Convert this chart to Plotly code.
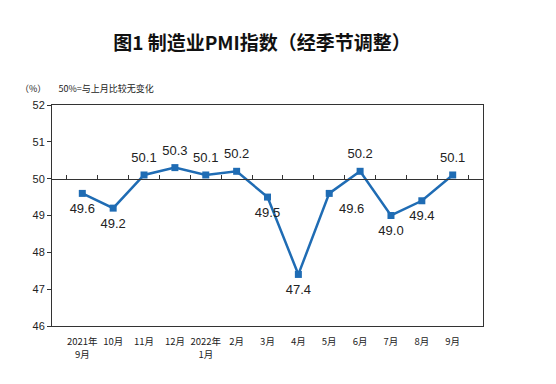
import plotly.graph_objects as go

months = ["2021年<br>9月", "10月", "11月", "12月", "2022年<br>1月", "2月", "3月", "4月", "5月", "6月", "7月", "8月", "9月"]
pmi = [49.6, 49.2, 50.1, 50.3, 50.1, 50.2, 49.5, 47.4, 49.6, 50.2, 49.0, 49.4, 50.1]
label_pos = ["bottom center", "bottom center", "top center", "top center", "top center", "top center",
             "bottom center", "bottom center", "bottom right", "top center", "bottom center", "bottom center", "top center"]
yticks = [46, 47, 48, 49, 50, 51, 52]

blue = "#1F6CB4"
fig = go.Figure()
fig.add_trace(go.Scatter(
    x=months, y=pmi, mode="lines+markers",
    line=dict(color=blue, width=2.5),
    marker=dict(symbol="square", size=7, color=blue),
    showlegend=False, hoverinfo="skip"))
# data labels (invisible larger markers give the labels more offset)
fig.add_trace(go.Scatter(
    x=months, y=pmi, mode="markers+text",
    marker=dict(size=14, opacity=0),
    text=[f"{v:.1f}" for v in pmi], textposition=label_pos,
    textfont=dict(family="Liberation Sans, Arial", size=13, color="#222222"),
    cliponaxis=False, showlegend=False, hoverinfo="skip"))
# invisible trace to carry the axis drawn at 50
fig.add_trace(go.Scatter(x=months, y=[None]*len(months), xaxis="x2", showlegend=False, hoverinfo="skip"))

fig.update_layout(
    width=556, height=384,
    margin=dict(l=44, r=81, t=97, b=66),
    paper_bgcolor="white", plot_bgcolor="white",
    title=dict(text="图1 制造业PMI指数（经季节调整）", x=(262-8)/556, xanchor="center",
               y=1 - 35/384, yanchor="middle", yref="container",
               font=dict(family="Noto Sans CJK SC", size=19, color="#111111", weight="bold")),
    xaxis=dict(type="category", showgrid=False, showline=True, linecolor="#333333", linewidth=1,
               mirror=True, ticks="", tickfont=dict(family="Noto Sans CJK SC", size=9.5, color="#222222"),
               ticklabelstandoff=7, fixedrange=True),
    xaxis2=dict(type="category", overlaying="x", anchor="free", position=(50-46)/(52-46),
                side="bottom", showgrid=False, showline=True, linecolor="#333333", linewidth=1,
                ticks="inside", ticklen=4, tickcolor="#333333", tickson="boundaries",
                showticklabels=False, matches="x"),
    yaxis=dict(range=[46, 52], tickvals=yticks, showgrid=False, showline=True, linecolor="#333333",
               linewidth=1, mirror=True, ticks="outside", ticklen=4, tickcolor="#333333",
               tickfont=dict(family="Liberation Sans, Arial", size=11, color="#222222"),
               zeroline=False, fixedrange=True),
)
fig.add_annotation(text="（%）      50%=与上月比较无变化", xref="paper", yref="paper",
                   x=(18-52)/431, y=(326-88)/221, xanchor="left", yanchor="middle", showarrow=False,
                   font=dict(family="Noto Sans CJK SC", size=9, color="#222222"))
fig.write_html("out.html")
